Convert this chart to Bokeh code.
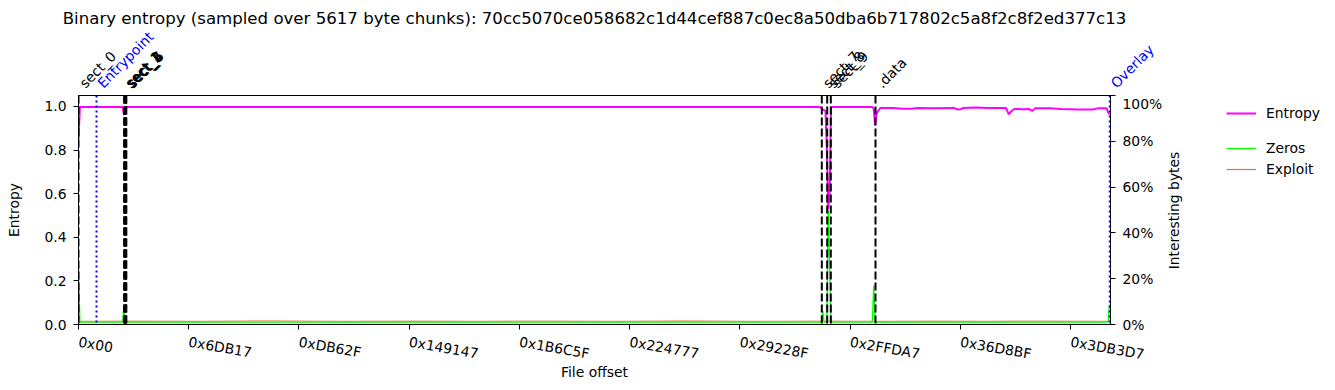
import math
from bokeh.plotting import figure
from bokeh.layouts import column, row
from bokeh.models import (Range1d, LinearAxis, FixedTicker, Span, Legend,
                          LegendItem, PrintfTickFormatter, NumeralTickFormatter)
from bokeh.core.properties import value
from bokeh.embed import file_html
from bokeh.resources import INLINE

TITLE = ("Binary entropy (sampled over 5617 byte chunks): "
         "70cc5070ce058682c1d44cef887c0ec8a50dba6b717802c5a8f2c8f2ed377c13")
CHUNK = 5617
FILE_SIZE = 4206000

X_TICK_LABELS = ["0x00", "0x6DB17", "0xDB62F", "0x149147", "0x1B6C5F",
                 "0x224777", "0x29228F", "0x2FFDA7", "0x36D8BF", "0x3DB3D7"]

ENTROPY_CHUNKS = [0, 1, 32, 33, 34, 538, 540, 542, 543, 544, 545, 546,
                  576, 577, 578, 579, 580, 582, 591, 598, 604, 609, 620, 635,
                  638, 640, 642, 651, 660, 673, 675, 677, 679, 685, 690, 692,
                  694, 705, 713, 725, 736, 740, 746, 747, 748]
ENTROPY_VALUES = [0.85, 0.997, 0.997, 0.96, 0.997, 0.997, 0.985, 0.98, 0.80, 0.53, 0.60, 0.997,
                  0.997, 0.99, 0.913, 0.965, 0.978, 0.993, 0.993, 0.989, 0.989, 0.993, 0.992, 0.993,
                  0.986, 0.987, 0.993, 0.995, 0.993, 0.993, 0.963, 0.979, 0.988, 0.987, 0.988, 0.979,
                  0.991, 0.991, 0.988, 0.986, 0.986, 0.992, 0.991, 0.975, 0.963]

ZEROS_CHUNKS = [0, 1, 32, 33, 34, 539, 540, 541, 543, 544, 545, 546,
                576, 577, 578, 747, 748]
ZEROS_VALUES = [0.245, 0.01, 0.01, 0.083, 0.01, 0.01, 0.06, 0.01, 0.01, 0.50, 0.25, 0.01,
                0.01, 0.17, 0.01, 0.01, 0.087]

EXPLOIT_CHUNKS = [0, 40, 90, 140, 190, 240, 290, 340, 390, 440, 490, 540,
                  580, 620, 660, 700, 748]
EXPLOIT_VALUES = [0.014, 0.015, 0.014, 0.016, 0.014, 0.015, 0.014, 0.015, 0.014, 0.016, 0.014, 0.015,
                  0.014, 0.015, 0.014, 0.015, 0.014]

SECTION_NAMES = ["sect_0", "sect_1", "sect_2", "sect_3", "sect_4", "sect_5", "sect_6",
                 "sect_7", "sect_8", "sect_9", ".data"]
SECTION_OFFSETS = [0, 186000, 188000, 190000, 191500, 193000, 195000,
                   3029400, 3051400, 3066100, 3248250]

MARKER_NAMES = ["Entrypoint", "Overlay"]
MARKER_OFFSETS = [73400, 4203000]

FONT = "DejaVu Sans"
TICK_FS = "13.9px"

W = 1335
TOP_H = 95
FRAME_L = 78
FRAME_W = 1032
FRAME_H = 229
BOTTOM = 65
MAIN_RIGHT = 56
MAIN_W = FRAME_L + FRAME_W + MAIN_RIGHT
MAIN_H = FRAME_H + BOTTOM
SIDE_W = W - MAIN_W

ENT_COLOR = "#ff00ff"
ZER_COLOR = "#00ff00"
EXP_COLOR = "#f26840"
ENT_LW = 2
ZER_LW = 1.3
EXP_LW = 1.2


def no_align(fig):
    if "frame_align" in fig.properties():
        fig.frame_align = False


# ---------- top strip: title and rotated section labels (same byte scale) ----------
bpp = FILE_SIZE / FRAME_W
top = figure(width=W, height=TOP_H,
             x_range=Range1d(-FRAME_L * bpp, (W - FRAME_L) * bpp),
             y_range=Range1d(0, TOP_H),
             x_axis_type=None, y_axis_type=None, min_border=0,
             min_border_left=0, min_border_right=0, min_border_top=0, min_border_bottom=0,
             output_backend="svg", toolbar_location=None)
no_align(top)
top.title.visible = False
top.outline_line_color = None
top.xgrid.visible = False
top.ygrid.visible = False

top.text(x=[FILE_SIZE / 2], y=[TOP_H - 18], text=[TITLE], text_align="center",
         text_baseline="middle", text_font=value(FONT), text_font_size="16.6px",
         text_color="black")
top.text(x=SECTION_OFFSETS, y=[4.5] * len(SECTION_OFFSETS), text=SECTION_NAMES,
         angle=45, angle_units="deg", text_align="left", text_baseline="bottom",
         x_offset=9, text_font=value(FONT), text_font_size=TICK_FS, text_color="black")
top.text(x=MARKER_OFFSETS, y=[4.5] * len(MARKER_OFFSETS), text=MARKER_NAMES,
         angle=45, angle_units="deg", text_align="left", text_baseline="bottom",
         x_offset=9, text_font=value(FONT), text_font_size=TICK_FS, text_color="blue")

# ---------- main plot ----------
p = figure(width=MAIN_W, height=MAIN_H,
           x_range=Range1d(0, FILE_SIZE), y_range=Range1d(0, 1.05),
           output_backend="svg", toolbar_location=None,
           min_border_left=FRAME_L, min_border_top=0, min_border_bottom=BOTTOM,
           min_border_right=MAIN_RIGHT)
no_align(p)
p.title.visible = False
p.extra_y_ranges = {"pct": Range1d(0, 1)}

p.xgrid.visible = False
p.ygrid.visible = False
p.outline_line_color = "black"
p.outline_line_width = 1
p.outline_line_alpha = 1

x_ticks = [int(s, 16) for s in X_TICK_LABELS]
p.xaxis.ticker = FixedTicker(ticks=x_ticks)
p.xaxis.major_label_overrides = {t: s for t, s in zip(x_ticks, X_TICK_LABELS)}
p.xaxis.major_label_orientation = -math.radians(10)
p.xaxis.axis_label = "File offset"

p.yaxis.ticker = FixedTicker(ticks=[0, 0.2, 0.4, 0.6, 0.8, 1.0])
p.yaxis.formatter = PrintfTickFormatter(format="%.1f")
p.yaxis.axis_label = "Entropy"

right = LinearAxis(y_range_name="pct",
                   ticker=FixedTicker(ticks=[0, 0.2, 0.4, 0.6, 0.8, 1.0]),
                   formatter=NumeralTickFormatter(format="0%"))
p.add_layout(right, "right")

for ax in [p.xaxis[0], p.yaxis[0], right]:
    ax.major_tick_out = 5
    ax.major_tick_in = 0
    ax.minor_tick_line_color = None
    ax.axis_line_color = "black"
    ax.major_tick_line_color = "black"
    ax.major_label_text_font = FONT
    ax.major_label_text_font_size = TICK_FS
    ax.major_label_text_color = "black"
    ax.axis_label_text_font = FONT
    ax.axis_label_text_font_size = TICK_FS
    ax.axis_label_text_font_style = "normal"
    ax.axis_label_text_color = "black"
p.xaxis[0].major_label_standoff = 12
p.xaxis[0].axis_label_standoff = -9
p.yaxis[0].major_label_standoff = 7
p.yaxis[0].axis_label_standoff = 19
right.major_label_standoff = 7

ent_x = [c * CHUNK for c in ENTROPY_CHUNKS]
zer_x = [c * CHUNK for c in ZEROS_CHUNKS]
exp_x = [c * CHUNK for c in EXPLOIT_CHUNKS]

p.line(ent_x, ENTROPY_VALUES, line_color=ENT_COLOR, line_width=ENT_LW)
p.line(zer_x, ZEROS_VALUES, line_color=ZER_COLOR, line_width=ZER_LW, y_range_name="pct")
p.line(exp_x, EXPLOIT_VALUES, line_color=EXP_COLOR, line_width=EXP_LW, line_alpha=0.7,
       y_range_name="pct")

for off in SECTION_OFFSETS:
    p.add_layout(Span(location=off, dimension="height", line_color="black",
                      line_dash="8 3", line_width=2))
for off in MARKER_OFFSETS:
    p.add_layout(Span(location=off, dimension="height", line_color="blue",
                      line_dash="2 3", line_width=2))

# ---------- right strip: right-axis title and legends ----------
side = figure(width=SIDE_W, height=MAIN_H,
              x_range=Range1d(0, SIDE_W), y_range=Range1d(0, MAIN_H),
              x_axis_type=None, y_axis_type=None, min_border=0,
              min_border_left=0, min_border_right=0, min_border_top=0, min_border_bottom=0,
              output_backend="svg", toolbar_location=None)
no_align(side)
side.title.visible = False
side.outline_line_color = None
side.xgrid.visible = False
side.ygrid.visible = False
# ranges under which the legend's series fall entirely out of view
side.extra_x_ranges = {"series": Range1d(0, FILE_SIZE)}
side.extra_y_ranges = {"hidden": Range1d(10, 11)}

side.text(x=[1173 - MAIN_W], y=[MAIN_H - (210 - TOP_H)], text=["Interesting bytes"],
          angle=90, angle_units="deg", text_align="center", text_baseline="middle",
          text_font=value(FONT), text_font_size=TICK_FS, text_color="black")

k_ent = side.line(ent_x, ENTROPY_VALUES, line_color=ENT_COLOR, line_width=ENT_LW,
                  x_range_name="series", y_range_name="hidden")
k_zer = side.line(zer_x, ZEROS_VALUES, line_color=ZER_COLOR, line_width=ZER_LW,
                  x_range_name="series", y_range_name="hidden")
k_exp = side.line(exp_x, EXPLOIT_VALUES, line_color=EXP_COLOR, line_width=EXP_LW,
                  x_range_name="series", y_range_name="hidden")


def make_legend(items, bottom_px):
    return Legend(items=items, location=(1226 - MAIN_W, MAIN_H - (bottom_px - TOP_H)),
                  orientation="vertical", border_line_alpha=0, background_fill_alpha=0,
                  padding=0, margin=0, spacing=1, glyph_width=30, glyph_height=20,
                  label_height=20, label_standoff=10, label_text_font=FONT,
                  label_text_font_size=TICK_FS, label_text_color="black")


side.add_layout(make_legend([LegendItem(label="Entropy", renderers=[k_ent])], 123))
side.add_layout(make_legend([LegendItem(label="Zeros", renderers=[k_zer]),
                             LegendItem(label="Exploit", renderers=[k_exp])], 179))

layout = column(top, row(p, side, spacing=0), spacing=0)
open("out.html", "w").write(file_html(layout, INLINE))
